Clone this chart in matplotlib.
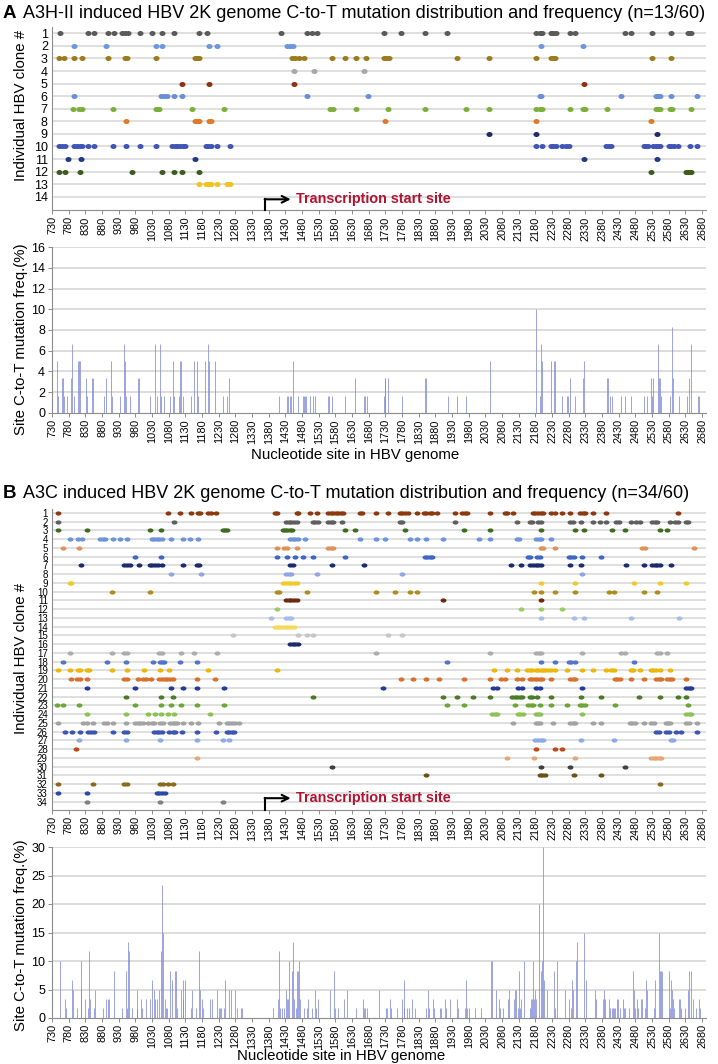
import matplotlib
matplotlib.use("Agg")
import matplotlib.pyplot as plt
from matplotlib.path import Path
import numpy as np

plt.rcParams['font.family'] = ['Liberation Sans', 'DejaVu Sans']

W, H = 718, 1064

# ---------------- data ----------------
x_ticks = list(range(730, 2681, 50))

# Panel A: mutation sites per clone (rows 1..14)
a_sites = [
    [754, 839, 857, 899, 916, 939, 949, 957, 994, 1029, 1061, 1097, 1172, 1194, 1416, 1496, 1509, 1524,
     1725, 1778, 1848, 1916, 2181, 2193, 2201, 2226, 2233, 2241, 2283, 2298, 2448, 2468, 2531, 2586, 2638, 2645, 2648],
    [796, 892, 1041, 1061, 1202, 1224, 1436, 1444, 1452, 2196, 2323],
    [752, 766, 796, 820, 898, 949, 955, 1042, 1159, 1166, 1172, 1450, 1458, 1472, 1486, 1569, 1609, 1642,
     1673, 1725, 1733, 1740, 1944, 2042, 2183, 2226, 2233, 2240, 2531, 2586],
    [1456, 1516, 1666],
    [1120, 1202, 1456, 2326],
    [796, 1058, 1066, 1074, 1097, 1120, 1494, 1678, 2193, 2198, 2436, 2543, 2548, 2553, 2586, 2666],
    [794, 812, 820, 914, 1042, 1049, 1052, 1151, 1247, 1564, 1572, 1642, 1738, 1848, 1971, 2042, 2183, 2193,
     2201, 2285, 2323, 2328, 2396, 2543, 2548, 2553, 2583, 2590, 2646],
    [952, 1160, 1166, 1172, 1202, 1206, 1728, 2183, 2526],
    [2042, 2183, 2545],
    [752, 760, 770, 796, 804, 814, 820, 839, 857, 914, 952, 994, 1041, 1090, 1098, 1104, 1114, 1122, 1129,
     1192, 1199, 1207, 1224, 1264, 2183, 2201, 2226, 2233, 2241, 2260, 2273, 2281, 2393, 2400, 2408, 2505,
     2511, 2518, 2533, 2541, 2548, 2553, 2581, 2588, 2595, 2608, 2645, 2665],
    [777, 816, 1160, 2326, 2545],
    [752, 770, 814, 969, 1059, 1097, 1120, 1171, 2526, 2631, 2638, 2645, 2648],
    [1170, 1192, 1199, 1206, 1224, 1256, 1264],
    [],
]
a_colors = ['#5A5A5A', '#6E96DC', '#9C7A1E', '#A8A8A8', '#8B3210', '#6A8FD8', '#7BAF3A',
            '#E07A2A', '#1E2A6A', '#4156B4', '#213A80', '#3E5C1E', '#F2C21E', '#000000']

# Panel A: site mutation frequency (%)
a_freq_sites = [746, 749, 761, 764, 767, 774, 788, 791, 795, 809, 812, 815, 833, 836, 851, 854, 887, 893,
                908, 911, 935, 947, 950, 953, 965, 989, 992, 1025, 1040, 1046, 1055, 1058, 1067, 1085,
                1094, 1096, 1112, 1115, 1118, 1124, 1148, 1157, 1166, 1169, 1190, 1199, 1202, 1220, 1244,
                1256, 1262, 1412, 1436, 1439, 1445, 1448, 1454, 1469, 1484, 1487, 1490, 1493, 1505, 1514,
                1520, 1559, 1562, 1571, 1610, 1640,
                1666, 1670, 1676, 1726, 1728, 1730, 1739, 1781, 1848, 1851, 1919, 1946, 1973, 2045, 2183,
                2193, 2197, 2201, 2228, 2237, 2240, 2261, 2276, 2279, 2285, 2300, 2324, 2327, 2396, 2399,
                2405, 2409, 2438, 2450, 2468, 2507, 2516, 2528, 2531, 2534, 2549, 2552, 2555, 2558, 2585,
                2589, 2592, 2610, 2636, 2642, 2648, 2667, 2670]
a_freq_vals = [5.0, 1.67, 3.33, 3.33, 1.67, 1.67, 3.33, 6.67, 1.67, 5.0, 5.0, 5.0, 3.33, 1.67, 3.33, 3.33, 1.67, 3.33,
               5.0, 1.67, 1.67, 6.67, 5.0, 1.67, 1.67, 3.33, 3.33, 1.67, 6.67, 1.67, 6.67, 1.67, 1.67, 1.67,
               5.0, 1.67, 1.67, 5.0, 5.0, 1.67, 1.67, 5.0, 5.0, 1.67, 5.0, 6.67, 5.0, 5.0, 1.67,
               1.67, 3.33, 1.67, 1.67, 1.67, 1.67, 1.67, 5.0, 1.67, 1.67, 1.67, 1.67, 1.67, 1.67, 1.67,
               1.67, 1.67, 1.67, 1.67, 1.67, 3.33,
               1.67, 1.67, 1.67, 1.67, 3.33, 3.33, 3.33, 1.67, 3.33, 3.33, 1.67, 1.67, 1.67, 5.0, 10.0,
               1.67, 6.67, 5.0, 5.0, 5.0, 5.0, 1.67, 1.67, 1.67, 3.33, 1.67, 3.33, 5.0, 3.33, 3.33,
               1.67, 1.67, 1.67, 1.67, 1.67, 1.67, 1.67, 3.33, 1.67, 3.33, 6.67, 3.33, 3.33, 1.67, 1.67,
               8.33, 3.33, 1.67, 1.67, 3.33, 6.67, 1.67, 1.67]

# Panel B: mutation sites per clone (rows 1..34)
b_sites = [
    [749, 1079, 1114, 1146, 1168, 1174, 1199, 1207, 1222, 1400, 1406, 1464, 1469, 1504, 1524, 1559, 1566, 1574,
     1581, 1589, 1596, 1604, 1653, 1660, 1703, 1738, 1773, 1780, 1788, 1798, 1826, 1845, 1853, 1863, 1871, 1886,
     1938, 1961, 1968, 1976, 2043, 2088, 2096, 2114, 2173, 2180, 2188, 2196, 2203, 2228, 2238, 2260, 2285, 2313,
     2323, 2328, 2353, 2393, 2608],
    [749, 1096, 1432, 1440, 1448, 1456, 1464, 1512, 1520, 1528, 1559, 1567, 1574, 1601, 1773, 1780, 1938, 2126,
     2163, 2170, 2188, 2196, 2285, 2293, 2316, 2353, 2375, 2393, 2423, 2431, 2466, 2481, 2493, 2531, 2538, 2545,
     2585, 2598, 2608, 2631, 2638],
    [749, 836, 1025, 1056, 1242, 1249, 1256, 1424, 1430, 1436, 1444, 1450, 1610, 1640, 1790, 1966, 2043, 2196,
     2298, 2326, 2410, 2448, 2553, 2576],
    [784, 809, 819, 874, 882, 889, 912, 934, 956, 1029, 1036, 1044, 1051, 1059, 1086, 1122, 1145, 1168, 1444,
     1452, 1460, 1467, 1488, 1653, 1703, 1728, 1803, 1826, 1851, 1903, 2011, 2043, 2126, 2132, 2183, 2191, 2198, 2226],
    [764, 810, 1404, 1427, 1435, 1464, 1559, 1567, 1574, 2196, 2203, 2238, 2501, 2508, 2656],
    [980, 1057, 1404, 1434, 1459, 1482, 1512, 1609, 1848, 1855, 1863, 1870, 2158, 2165, 2186, 2193, 2280, 2288,
     2296, 2320, 2378],
    [816, 946, 954, 964, 992, 1024, 1031, 1040, 1049, 1059, 1124, 1164, 1172, 1444, 1452, 1571, 1666, 2108, 2138,
     2163, 2173, 2181, 2188, 2196, 2285, 2318, 2453, 2505, 2530, 2538, 2545, 2553, 2586],
    [1086, 1178, 1432, 1440, 1448, 1524, 1780, 2320],
    [784, 788, 1424, 1432, 1440, 1448, 1456, 1464, 2196, 2298, 2476, 2553, 2633],
    [910, 1025, 1404, 1412, 1494, 1703, 1758, 1803, 1824, 2175, 2198, 2238, 2298, 2400, 2416, 2505, 2545],
    [1432, 1440, 1448, 1456, 1464, 1903, 2196],
    [1404, 2138, 2196, 2261],
    [1386, 1432, 1440, 1448, 2196, 2296, 2325, 2466, 2611],
    [1399, 1407, 1415, 1423, 1431, 1439, 1447, 1455],
    [1274, 1467, 1494, 1514, 1738, 1780],
    [1444, 1452, 1460, 1467],
    [784, 910, 946, 954, 1052, 1059, 1116, 1156, 1226, 1703, 2043, 2183, 2191, 2198, 2320, 2438, 2448, 2546, 2553, 2576],
    [764, 894, 952, 1032, 1054, 1061, 1067, 1114, 1166, 1916, 2196, 2238, 2281, 2288, 2298, 2476],
    [749, 784, 809, 814, 834, 840, 910, 954, 1006, 1054, 1080, 1199, 1404, 2055, 2095, 2126, 2156, 2163, 2171,
     2181, 2188, 2196, 2203, 2210, 2218, 2226, 2238, 2276, 2320, 2353, 2393, 2408, 2416, 2466, 2473, 2493, 2526,
     2533, 2541, 2553, 2583],
    [786, 806, 814, 836, 946, 954, 989, 1004, 1012, 1027, 1052, 1060, 1068, 1075, 1084, 1094, 1166, 1219, 1778,
     1813, 1853, 1890, 1966, 2043, 2078, 2088, 2125, 2140, 2163, 2171, 2178, 2186, 2193, 2201, 2226, 2284, 2292,
     2300, 2418, 2426, 2434, 2466, 2506, 2543, 2551, 2558, 2576, 2583, 2591, 2633],
    [834, 980, 1086, 1124, 1166, 1246, 1723, 2053, 2065, 2128, 2141, 2181, 2193, 2320, 2633, 2641, 2648],
    [952, 1056, 1094, 1514, 1903, 1946, 1993, 2043, 2110, 2118, 2126, 2133, 2141, 2163, 2171, 2186, 2226, 2318,
     2376, 2491, 2553, 2608, 2633],
    [746, 762, 812, 980, 1056, 1086, 1116, 1166, 1246, 1916, 1966, 2118, 2158, 2166, 2173, 2193, 2226, 2276, 2313,
     2321, 2328, 2418, 2638],
    [834, 952, 1019, 1039, 1056, 1077, 1096, 1204, 2051, 2058, 2066, 2128, 2135, 2143, 2181, 2188, 2195, 2320,
     2633, 2641, 2648],
    [749, 824, 836, 854, 886, 894, 912, 952, 979, 987, 994, 1002, 1019, 1029, 1036, 1054, 1062, 1084, 1092, 1099,
     1106, 1122, 1146, 1168, 1232, 1254, 1262, 1271, 1278, 1292, 2113, 2181, 2188, 2195, 2233, 2285, 2292, 2298,
     2353, 2378, 2463, 2470, 2478, 2506, 2528, 2535, 2571, 2578, 2585, 2633, 2641, 2666],
    [769, 789, 814, 839, 847, 856, 912, 946, 954, 1036, 1044, 1052, 1060, 1080, 1092, 1100, 1120, 1166, 1221, 1254,
     1262, 1270, 1277, 2543, 2551, 2573, 2581, 2603, 2618, 2666],
    [812, 952, 1054, 1164, 1244, 1262, 2180, 2188, 2196, 2203, 2318, 2416, 2586, 2593],
    [801, 2183, 2238, 2260],
    [1166, 2095, 2175, 2298, 2528, 2536, 2543, 2551, 2558],
    [1571, 2196, 2284, 2448],
    [1851, 2193, 2201, 2208, 2296, 2376],
    [749, 854, 946, 954, 1054, 1064, 1077, 1094, 2553],
    [749, 836, 1044, 1052, 1060, 1068],
    [836, 1054, 1242],
]
b_colors = ['#8B3A0F', '#5F5F5F', '#3F6B1E', '#6E93DA', '#E0915A', '#3F66C4', '#1E2A6E', '#92A6E2',
            '#F2C92A', '#B08B1E', '#6B2A0E', '#9CCB67', '#A9BDEA', '#F6D85A', '#C6C6C6', '#1E2A6E',
            '#ACACAC', '#5275C9', '#EDB60A', '#D9712E', '#26399A', '#4B7A28', '#6BA636', '#8CC255',
            '#A3A3A3', '#3C55B2', '#8AABE8', '#BE4A1A', '#E8A676', '#404040', '#6A5214', '#8C6A1C',
            '#2B4AA2', '#808080']

# Panel B: site mutation frequency (%)
b_freq_sites = [754, 769, 772, 790, 792, 804, 816, 818, 828, 837, 840, 844, 855, 858, 882, 892, 897, 900, 915,
                939, 952, 955, 957, 960, 969, 984, 986, 996, 1000, 1011, 1023, 1029, 1035, 1038, 1044, 1050,
                1056, 1059, 1062, 1068, 1072, 1075, 1083, 1090, 1098, 1101, 1104, 1116, 1122, 1123, 1128,
                1146, 1150, 1161, 1170, 1173, 1179, 1182, 1203, 1209, 1224, 1230, 1233, 1236, 1246, 1248,
                1260, 1266, 1278, 1284, 1296, 1299, 1392, 1407, 1410, 1413, 1419, 1425, 1431, 1434, 1437,
                1440, 1449, 1452, 1455, 1461, 1464, 1467, 1470, 1473, 1485, 1494, 1497, 1509, 1518, 1521,
                1527, 1563, 1575, 1578, 1587, 1605, 1614, 1641,
                1662, 1665, 1668, 1674, 1712, 1733, 1736, 1745, 1748, 1765, 1781, 1785, 1787, 1796, 1802,
                1811, 1820, 1853, 1859, 1862, 1874, 1877, 1895, 1898, 1910, 1913, 1925, 1946, 1949, 1970,
                1972, 1975, 1982, 2000, 2018, 2048, 2051, 2063, 2072, 2075, 2084, 2099, 2102, 2117, 2120,
                2123, 2129, 2132, 2135, 2138, 2147, 2165, 2168, 2171, 2174, 2177, 2180, 2183, 2192, 2198,
                2201, 2204, 2207, 2216, 2237, 2240, 2246, 2270, 2282, 2288, 2291, 2294, 2303, 2305, 2327,
                2331, 2360, 2363, 2384, 2387, 2390, 2402, 2405, 2411, 2414, 2417, 2420, 2426, 2429, 2435,
                2444, 2447, 2450, 2462, 2473, 2476, 2479, 2485, 2488, 2497, 2500, 2510, 2513, 2516, 2537,
                2539, 2552, 2555, 2558, 2561, 2582, 2585, 2588, 2591, 2594, 2597, 2612, 2615, 2618, 2630,
                2639, 2642, 2647, 2653, 2662, 2671, 2674]
b_freq_vals = [10.0, 3.33, 1.67, 6.67, 5.0, 1.67, 10.0, 5.0, 3.33, 1.67, 11.67, 3.33, 1.67, 5.0, 1.67, 3.33, 3.33, 3.33, 8.33,
               1.67, 8.33, 1.67, 13.33, 11.67, 1.67, 5.0, 1.67, 3.33, 1.67, 3.33, 3.33, 6.67, 5.0, 3.33, 3.33, 5.0,
               11.67, 23.33, 15.0, 3.33, 1.67, 1.67, 8.33, 6.67, 8.33, 8.33, 1.67, 5.0, 6.67, 3.33, 6.67,
               1.67, 5.0, 1.67, 11.67, 5.0, 3.33, 1.67, 3.33, 3.33, 5.0, 1.67, 1.67, 1.67, 1.67, 6.67,
               5.0, 5.0, 5.0, 1.67, 1.67, 1.67, 1.67, 3.33, 11.67, 1.67, 1.67, 1.67, 5.0, 3.33, 3.33,
               10.0, 8.33, 13.33, 3.33, 1.67, 8.33, 8.33, 10.0, 3.33, 1.67, 1.67, 3.33, 1.67, 5.0, 1.67,
               3.33, 5.0, 8.33, 1.67, 1.67, 3.33, 5.0, 1.67,
               3.33, 1.67, 1.67, 1.67, 5.0, 1.67, 1.67, 3.33, 1.67, 1.67, 3.33, 1.67, 6.67, 1.67, 1.67,
               3.33, 1.67, 1.67, 5.0, 1.67, 3.33, 1.67, 1.67, 1.67, 3.33, 1.67, 3.33, 3.33, 1.67, 1.67,
               6.67, 1.67, 1.67, 1.67, 1.67, 10.0, 10.0, 5.0, 3.33, 1.67, 1.67, 3.33, 5.0, 3.33, 5.0,
               5.0, 1.67, 8.33, 1.67, 3.33, 10.0, 1.67, 3.33, 3.33, 10.0, 3.33, 5.0, 3.33, 20.0, 8.33,
               10.0, 30.0, 6.67, 5.0, 8.33, 1.67, 10.0, 5.0, 3.33, 1.67, 6.67, 5.0, 10.0, 13.33, 15.0,
               6.67, 5.0, 3.33, 3.33, 5.0, 3.33, 3.33, 1.67, 1.67, 1.67, 1.67, 1.67, 3.33, 3.33, 1.67,
               3.33, 1.67, 1.67, 1.67, 8.33, 5.0, 1.67, 3.33, 1.67, 3.33, 3.33, 1.67, 6.67, 5.0, 1.67,
               6.67, 15.0, 8.33, 8.33, 8.33, 8.33, 1.67, 6.67, 5.0, 3.33, 1.67, 3.33, 3.33, 1.67, 1.67,
               5.0, 8.33, 8.33, 3.33, 1.67, 3.33, 1.67]

# ---------------- drawing ----------------
fig = plt.figure(figsize=(W / 100, H / 100), dpi=100)

def rect(l, t, r, b):
    return [l / W, 1 - b / H, (r - l) / W, (b - t) / H]

XMIN, XMAX = 730, 2692
GRID = '#d6d6d6'
SPINE = '#8c8c8c'


def ellipse(ratio):
    theta = np.linspace(0, 2 * np.pi, 40)
    return Path(np.column_stack([np.cos(theta), ratio * np.sin(theta)]), closed=True)


def style_x(ax):
    ax.set_xlim(XMIN, XMAX)
    ax.set_xticks(x_ticks)
    ax.set_xticklabels([str(t) for t in x_ticks], rotation=90, fontsize=7.8, va='top')
    ax.tick_params(axis='x', length=3, width=0.7, color=SPINE, pad=1.5)
    for s in ['top', 'right']:
        ax.spines[s].set_visible(False)
    for s in ['left', 'bottom']:
        ax.spines[s].set_color(SPINE)
        ax.spines[s].set_linewidth(0.8)


def dot_panel(ax, sites, colors, nrows, ms, ratio, tick_fs, arrow_row, ybottom):
    style_x(ax)
    for i in range(1, nrows + 1):
        ax.axhline(i, color=GRID, lw=1.1, zorder=0)
    mk = ellipse(ratio)
    for i, (s, c) in enumerate(zip(sites, colors)):
        if len(s):
            ax.scatter(s, [i + 1] * len(s), s=ms, color=c, marker=mk, linewidths=0, zorder=3)
    ax.set_ylim(ybottom, 0.5)
    ax.set_yticks(range(1, nrows + 1))
    ax.set_yticklabels([str(i) for i in range(1, nrows + 1)], fontsize=tick_fs)
    ax.tick_params(axis='y', length=0, pad=3)
    # transcription start site arrow
    xs, xe, xt = 1370, 1446, 1462
    ax.plot([xs, xs], [ybottom, arrow_row], color='black', lw=1.5, clip_on=False, zorder=5)
    ax.annotate('', xy=(xe, arrow_row), xytext=(xs - 2, arrow_row),
                arrowprops=dict(arrowstyle='->', lw=1.5, color='black', mutation_scale=12,
                                shrinkA=0, shrinkB=0), annotation_clip=False)
    ax.text(xt, arrow_row, 'Transcription start site', color='#B0142F', fontweight='bold',
            fontsize=10.4, va='center', ha='left')


def freq_panel(ax, xs, vals, ymax, ystep, tick_fs):
    style_x(ax)
    ax.set_ylim(0, ymax)
    yt = list(range(0, ymax + 1, ystep))
    ax.set_yticks(yt)
    ax.set_yticklabels([str(v) for v in yt], fontsize=tick_fs)
    ax.tick_params(axis='y', length=3, width=0.7, color=SPINE, pad=2)
    for v in yt[1:]:
        ax.axhline(v, color=GRID, lw=1.2, zorder=0)
    ax.vlines(xs, 0, vals, color='#7c86d4', lw=0.7, alpha=0.75, zorder=2)


# Panel A
axA = fig.add_axes(rect(52, 27, 706, 210))
dot_panel(axA, a_sites, a_colors, 14, 19, 0.83, 9, 14.2, 15.05)
axAf = fig.add_axes(rect(52, 247, 706, 413))
freq_panel(axAf, a_freq_sites, a_freq_vals, 16, 2, 9)

# Panel B
axB = fig.add_axes(rect(52, 508.6, 706, 810))
dot_panel(axB, b_sites, b_colors, 34, 18, 0.72, 7, 33.6, 34.95)
axBf = fig.add_axes(rect(52, 847, 706, 1018))
freq_panel(axBf, b_freq_sites, b_freq_vals, 30, 5, 9)

def ftext(x, y, s, **kw):
    fig.text(x / W, 1 - y / H, s, **kw)

ftext(3, 13, 'A', fontsize=13.5, fontweight='bold', va='center', ha='left')
ftext(23, 13, 'A3H-II induced HBV 2K genome C-to-T mutation distribution and frequency (n=13/60)',
      fontsize=13, va='center', ha='left')
ftext(3, 494, 'B', fontsize=13.5, fontweight='bold', va='center', ha='left')
ftext(23, 494, 'A3C induced HBV 2K genome C-to-T mutation distribution and frequency (n=34/60)',
      fontsize=13, va='center', ha='left')

ftext(21, 105, 'Individual HBV clone #', fontsize=10.8, rotation=90, va='center', ha='center')
ftext(21, 339, 'Site C-to-T mutation freq.(%)', fontsize=10.8, rotation=90, va='center', ha='center')
ftext(21, 658, 'Individual HBV clone #', fontsize=10.8, rotation=90, va='center', ha='center')
ftext(21, 935, 'Site C-to-T mutation freq.(%)', fontsize=10.8, rotation=90, va='center', ha='center')

ftext(355, 455, 'Nucleotide site in HBV genome', fontsize=10.8, va='center', ha='center')
ftext(341, 1056, 'Nucleotide site in HBV genome', fontsize=10.8, va='center', ha='center')

fig.savefig('out.png', dpi=100)
